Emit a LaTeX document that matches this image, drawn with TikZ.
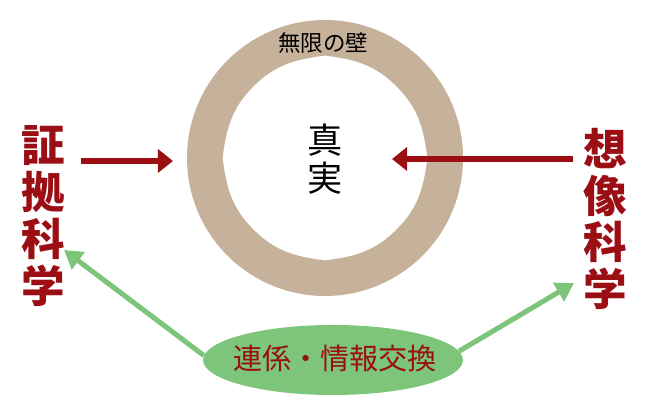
\documentclass[tikz,border=0pt]{standalone}
\usepackage{fontspec}
\newfontfamily\cjk{Noto Sans CJK JP}
\usetikzlibrary{arrows.meta,shapes.geometric}
\definecolor{walltan}{RGB}{198,178,154}
\definecolor{sciencered}{RGB}{155,14,20}
\definecolor{linkgreen}{RGB}{125,197,122}

\begin{document}
\begin{tikzpicture}[
		sidetext/.style={inner sep=0pt, align=center, text=sciencered, font=\cjk\bfseries\fontsize{31}{33.4}\selectfont},
		redarrow/.style={line width=4pt, color=sciencered, -{Triangle[length=0.38cm, width=0.58cm]}},
		greenarrow/.style={line width=3.6pt, color=linkgreen, -{Triangle[length=0.45cm, width=0.52cm]}}
	]
			%%%%% START %%%%%
			\useasboundingbox (0, 0) rectangle (16.25, 10);
			
			\coordinate (ringc) at (8.125, 6.05);
			\begin{scope}[shift={(ringc)}]
				\fill[walltan, even odd rule] (0, 0) circle (3.45)
					(90:2.56) to[out=-7, in=135] (45:2.53) to[out=-45, in=97] (0:2.56)
					to[out=-97, in=45] (-45:2.53) to[out=-135, in=7] (-90:2.56)
					to[out=173, in=-45] (-135:2.53) to[out=135, in=-83] (180:2.56)
					to[out=83, in=-135] (135:2.53) to[out=45, in=187] (90:2.56) -- cycle;
			\end{scope}
			
			\node[font=\cjk\fontsize{16}{18}\selectfont] (wall) at (8.075, 8.925) {無限の壁};
			\node[align=center, font=\cjk\fontsize{25}{27}\selectfont] (truth) at (8.125, 6.025) {真\\実};
			
			\node[sidetext] (evid) at (1.075, 4.6) {証\\拠\\科\\学};
			\node[sidetext] (imag) at (15.125, 4.525) {想\\像\\科\\学};
			
			\coordinate (wallin) at (4.325, 5.975);
			\coordinate (truthin) at (9.8, 6.025);
			\draw[redarrow, shorten <=0.4cm] (evid.east |- wallin) -- (wallin);
			\draw[redarrow, shorten <=0.25cm] (imag.west |- truthin) -- (truthin);
			
			\node[ellipse, fill=linkgreen, minimum width=6.5cm, minimum height=1.75cm, inner sep=0pt] (exch) at (8.325, 1.0) {};
			\node[text=sciencered, font=\cjk\fontsize{20.7}{22}\selectfont] (exchtext) at (8.375, 1.05) {連係・情報交換};
			
			\coordinate (evidtip) at (1.6, 3.75);
			\coordinate (imagtip) at (14.35, 2.925);
			\draw[greenarrow] (exch.178) -- (evidtip);
			\draw[greenarrow] (exch.4) -- (imagtip);
			%%%%% END %%%%%
\end{tikzpicture}
\end{document}
